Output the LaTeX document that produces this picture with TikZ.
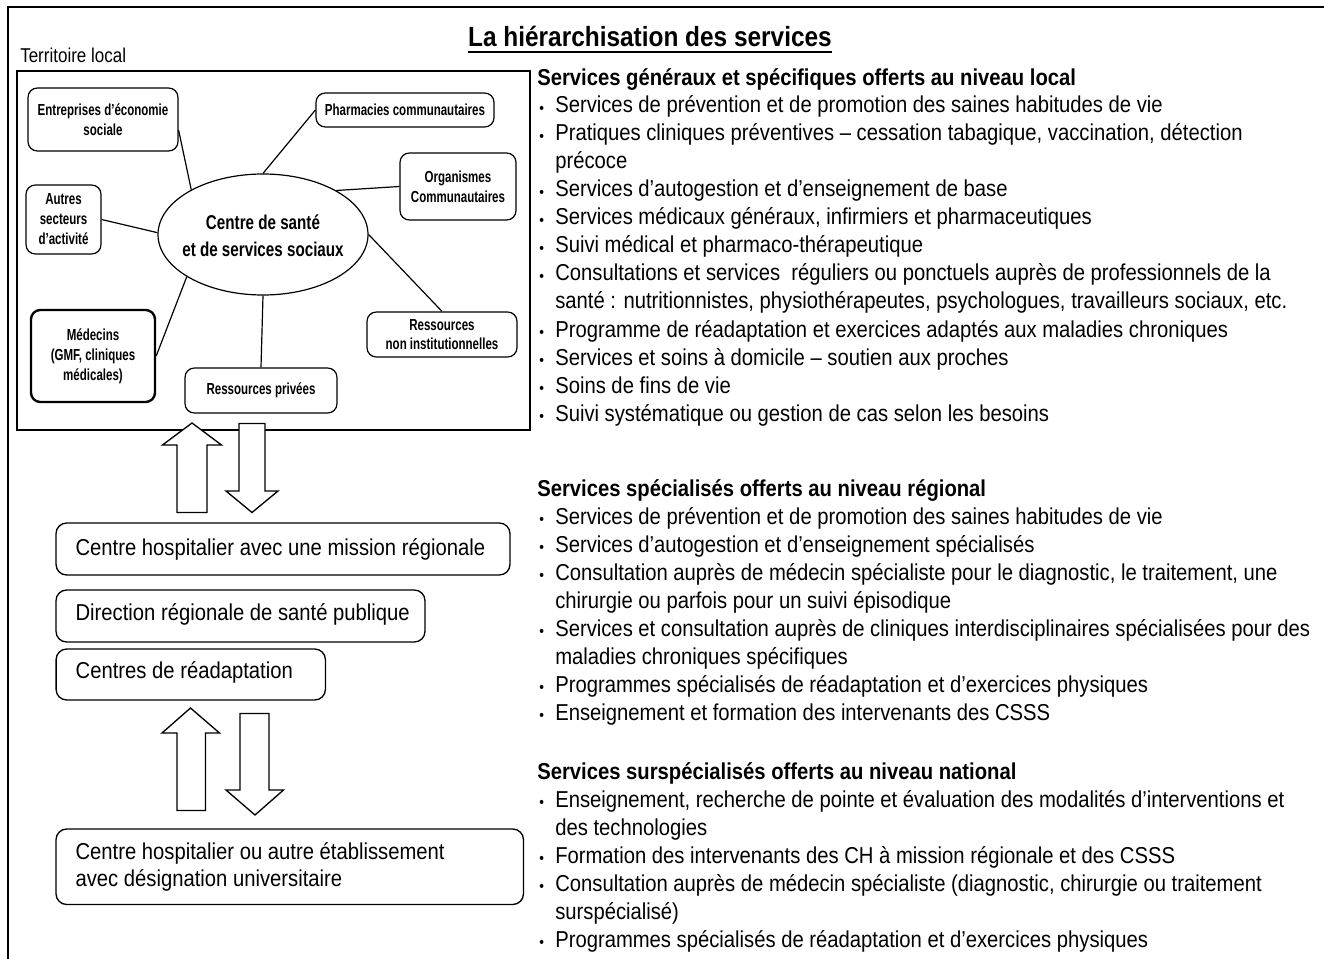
\documentclass[tikz,border=0pt]{standalone}
\usepackage{fontspec}
\usetikzlibrary{shapes.geometric}
\setmainfont{Liberation Sans}
\newfontfamily\fbody{Liberation Sans}[FakeStretch=0.88]
\newfontfamily\fsmall{Liberation Sans}[FakeStretch=0.72]
\newfontfamily\fell{Liberation Sans}[FakeStretch=0.76]
\newfontfamily\fterr{Liberation Sans}[FakeStretch=0.85]
\newcommand\mybul{\makebox[12pt][l]{\raisebox{-0.6pt}{\fontsize{11.5}{11.5}\selectfont •}}}
\begin{document}
\begin{tikzpicture}[x=0.75pt,y=-0.75pt,
  txtline/.style={anchor=base west, inner sep=0pt, font=\fbody\fontsize{17.25}{21}\selectfont},
  headline/.style={anchor=base west, inner sep=0pt, font=\fbody\bfseries\fontsize{17.25}{21}\selectfont},
  sbox/.style={draw, rounded corners=7pt, line width=0.9pt, align=center, inner sep=0pt, font=\fsmall\bfseries\fontsize{12}{15}\selectfont},
  bbox/.style={draw, rounded corners=8pt, line width=1pt, inner sep=0pt},
  btext/.style={anchor=west, inner sep=0pt, align=left, font=\fbody\fontsize{17.25}{20}\selectfont},
  link/.style={line width=0.9pt},
  barrow/.style={draw, line width=1pt, fill=white}]
\useasboundingbox (0,0) rectangle (1324,959);
% outer frame
\draw[line width=1.5pt] (8,959) -- (8,7) -- (1324,7);
% title
\node[anchor=base, inner sep=0pt, font=\fbody\bfseries\fontsize{20.8}{24}\selectfont] (title) at (650,47) {La hiérarchisation des services};
\draw[line width=1.4pt] ([yshift=-4pt]title.base west) -- ([yshift=-4pt]title.base east);
% territoire local
\node[anchor=base west, inner sep=0pt, font=\fterr\fontsize{15}{18}\selectfont] (terrlab) at (20,63) {Territoire local};
\node[draw, line width=0.8pt, minimum width=384.75pt, minimum height=269.25pt, inner sep=0pt] (terr) at (273.5,250.5) {};
% local nodes
\node[draw, ellipse, line width=0.9pt, minimum width=157.5pt, minimum height=90.75pt, inner sep=0pt] (csss) at (263,234.5) {};
\node[align=center, inner sep=0pt, font=\fell\bfseries\fontsize{15}{20}\selectfont] (cssst) at (263,236) {Centre de santé\\et de services sociaux};
\node[sbox, minimum width=112.5pt, minimum height=47.25pt] (ent) at (103,119.5) {Entreprises d’économie\\sociale};
\node[sbox, minimum width=133.5pt, minimum height=25.5pt] (pha) at (405,110) {Pharmacies communautaires};
\node[sbox, minimum width=87pt, minimum height=50.25pt] (org) at (458,186.5) {Organismes\\Communautaires};
\node[sbox, minimum width=56.25pt, minimum height=51.75pt] (aut) at (63.5,219.5) {Autres\\secteurs\\d’activité};
\node[sbox, line width=1.8pt, minimum width=93pt, minimum height=69pt] (med) at (93,356) {Médecins\\(GMF, cliniques\\médicales)};
\node[sbox, minimum width=114pt, minimum height=33.75pt] (rp) at (261,390.5) {Ressources privées};
\node[sbox, font=\fsmall\bfseries\fontsize{12}{14}\selectfont, minimum width=112.5pt, minimum height=33.75pt] (rni) at (442,334.5) {Ressources\\non institutionnelles};
\draw[link] (ent.-8) -- (csss.148);
\draw[link] (pha.west) -- (csss.north);
\draw[link] (org.west) -- (csss.31);
\draw[link] (aut.east) -- (csss.179);
\draw[link] (med.east) -- (csss.209);
\draw[link] (rp.north) -- (csss.south);
\draw[link] (rni.north) -- (csss.east);
% block arrows
\draw[barrow] (192,423) -- (221.5,445) -- (207,445) -- (207,512.5) -- (177,512.5) -- (177,445) -- (162.5,445) -- cycle;
\draw[barrow] (239,423.5) -- (265,423.5) -- (265,491) -- (278,491) -- (252,512.5) -- (226,491) -- (239,491) -- cycle;
\draw[barrow] (190.5,708) -- (219.5,733) -- (205.5,733) -- (205.5,810.5) -- (177,810.5) -- (177,733) -- (162,733) -- cycle;
\draw[barrow] (240,713.5) -- (269,713.5) -- (269,790) -- (283.5,790) -- (255,815) -- (226,790) -- (240,790) -- cycle;
% regional / national boxes
\node[bbox, minimum width=340.5pt, minimum height=39pt] (b1) at (283,549) {};
\node[btext] (b1t) at ([xshift=15pt]b1.west) {Centre hospitalier avec une mission régionale};
\node[bbox, minimum width=276.75pt, minimum height=39pt] (b2) at (240.5,616) {};
\node[btext] (b2t) at ([xshift=15pt,yshift=1.5pt]b2.west) {Direction régionale de santé publique};
\node[bbox, minimum width=202pt, minimum height=38.25pt] (b3) at (190.75,674.5) {};
\node[btext] (b3t) at ([xshift=15pt,yshift=1.5pt]b3.west) {Centres de réadaptation};
\node[bbox, minimum width=350.6pt, minimum height=56.6pt] (b4) at (289.75,866.75) {};
\node[btext] (b4t) at ([xshift=15pt]b4.west) {Centre hospitalier ou autre établissement\\avec désignation universitaire};
% right column
\node[headline] (h1) at (537,86) {Services généraux et spécifiques offerts au niveau local};
\node[txtline] (r1) at (539,113) {\mybul Services de prévention et de promotion des saines habitudes de vie};
\node[txtline] (r2) at (539,141) {\mybul Pratiques cliniques préventives – cessation tabagique, vaccination, détection};
\node[txtline] (r3) at (555,169) {précoce};
\node[txtline] (r4) at (539,197) {\mybul Services d’autogestion et d’enseignement de base};
\node[txtline] (r5) at (539,225) {\mybul Services médicaux généraux, infirmiers et pharmaceutiques};
\node[txtline] (r6) at (539,253) {\mybul Suivi médical et pharmaco-thérapeutique};
\node[txtline] (r7) at (539,281) {\mybul Consultations et services~ réguliers ou ponctuels auprès de professionnels de la};
\node[txtline] (r8) at (555,309) {santé : nutritionnistes, physiothérapeutes, psychologues, travailleurs sociaux, etc.};
\node[txtline] (r9) at (539,337) {\mybul Programme de réadaptation et exercices adaptés aux maladies chroniques};
\node[txtline] (r10) at (539,365) {\mybul Services et soins à domicile – soutien aux proches};
\node[txtline] (r11) at (539,393) {\mybul Soins de fins de vie};
\node[txtline] (r12) at (539,421) {\mybul Suivi systématique ou gestion de cas selon les besoins};
\node[headline] (h2) at (537,496) {Services spécialisés offerts au niveau régional};
\node[txtline] (s1) at (539,524) {\mybul Services de prévention et de promotion des saines habitudes de vie};
\node[txtline] (s2) at (539,552) {\mybul Services d’autogestion et d’enseignement spécialisés};
\node[txtline] (s3) at (539,580) {\mybul Consultation auprès de médecin spécialiste pour le diagnostic, le traitement, une};
\node[txtline] (s4) at (555,608) {chirurgie ou parfois pour un suivi épisodique};
\node[txtline] (s5) at (539,636) {\mybul Services et consultation auprès de cliniques interdisciplinaires spécialisées pour des};
\node[txtline] (s6) at (555,664) {maladies chroniques spécifiques};
\node[txtline] (s7) at (539,692) {\mybul Programmes spécialisés de réadaptation et d’exercices physiques};
\node[txtline] (s8) at (539,720) {\mybul Enseignement et formation des intervenants des CSSS};
\node[headline] (h3) at (537,779) {Services surspécialisés offerts au niveau national};
\node[txtline] (t1) at (539,807) {\mybul Enseignement, recherche de pointe et évaluation des modalités d’interventions et};
\node[txtline] (t2) at (555,835) {des technologies};
\node[txtline] (t3) at (539,863) {\mybul Formation des intervenants des CH à mission régionale et des CSSS};
\node[txtline] (t4) at (539,891) {\mybul Consultation auprès de médecin spécialiste (diagnostic, chirurgie ou traitement};
\node[txtline] (t5) at (555,919) {surspécialisé)};
\node[txtline] (t6) at (539,947) {\mybul Programmes spécialisés de réadaptation et d’exercices physiques};
\end{tikzpicture}
\end{document}
